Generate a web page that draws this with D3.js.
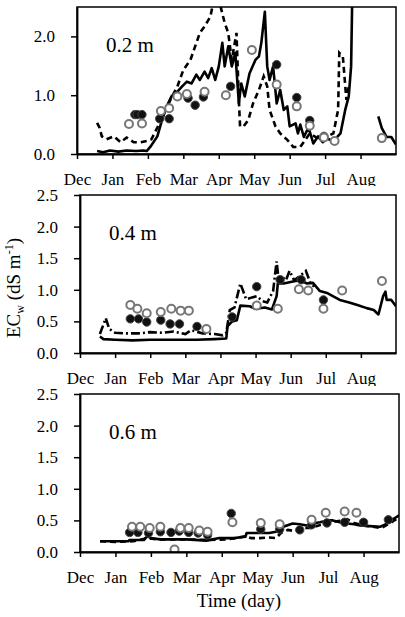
<!DOCTYPE html>
<meta charset="utf-8">
<script src="https://d3js.org/d3.v7.min.js"></script>
<style>
  body { margin: 0; background: #fff; }
</style>
<div id="my_dataviz"></div>
<script>

var serif = "'Liberation Serif', 'Times New Roman', serif";

// month tick labels (one tick every 30 days, day 0 = start of Dec)
var months = ["Dec", "Jan", "Feb", "Mar", "Apr", "May", "Jun", "Jul", "Aug"];
var depths = ["0.2 m", "0.4 m", "0.6 m"];

// ---- 0.2 m : [day, ECw]
var sim02Solid = [[17,0.05],[22,0.03],[28,0.06],[35,0.04],[42,0.06],[50,0.05],[56,0.06],[59,0.05],[62,0.12],[68,0.30],[72,0.58],[76,0.81],[80,0.98],[85,1.06],[89,1.15],[93,1.23],[97,1.20],[101,1.35],[104,1.26],[108,1.40],[111,1.29],[114,1.46],[117,1.26],[120,1.49],[123,1.89],[125,1.49],[128,1.83],[131,1.49],[134,1.72],[137,0.86],[139,1.20],[142,0.98],[146,1.37],[151,1.60],[154,1.66],[156,1.89],[159,2.42],[161,1.49],[163,1.26],[166,1.49],[169,0.86],[172,1.09],[175,0.75],[178,0.81],[180,0.47],[185,0.52],[187,0.35],[189,0.50],[192,0.29],[196,0.45],[200,0.18],[204,0.30],[208,0.20],[212,0.26],[217,0.22],[223,0.35],[227,0.75],[230,0.98],[232,1.49],[233,2.7],[234,null],[255,0.64],[258,0.44],[262,0.29],[266,0.29],[270,0.16]];
var sim02Dash = [[17,0.53],[19,0.45],[21,0.30],[25,0.25],[31,0.30],[37,0.20],[42,0.28],[48,0.20],[54,0.20],[59,0.22],[63,0.25],[68,0.45],[72,0.62],[79,0.92],[85,1.15],[90,1.43],[96,1.60],[100,1.83],[104,2.06],[108,2.17],[113,2.34],[115,2.55],[121,2.55],[125,2.23],[128,2.06],[131,1.60],[135,2.06],[137,0.92],[138,0.47],[141,0.47],[145,0.58],[149,0.86],[154,1.09],[158,1.32],[161,1.15],[163,0.75],[168,0.47],[172,0.35],[178,0.24],[183,0.12],[189,0.12],[197,0.35],[206,0.24],[217,0.35],[221,0.75],[222,1.72],[225,1.66],[228,0.92],[230,1.15]];
var obs02Filled = [[49,0.67],[51,0.67],[55,0.67],[70,0.60],[78,0.60],[94,0.95],[100,0.83],[107,0.97],[130,1.15],[169,1.52],[186,0.96],[197,0.57],[209,0.30]];
var obs02Open = [[44,0.51],[55,0.52],[71,0.73],[78,0.78],[85,0.98],[93,1.02],[108,1.06],[126,1.00],[148,1.77],[169,1.18],[186,0.81],[197,0.48],[209,0.28],[218,0.22],[258,0.27]];

// ---- 0.4 m
var sim04Solid = [[17,0.26],[20,0.22],[30,0.21],[45,0.20],[60,0.21],[80,0.21],[100,0.21],[115,0.22],[125,0.23],[126,0.42],[130,0.50],[134,0.52],[137,0.75],[145,0.74],[150,0.70],[158,0.72],[164,0.69],[168,0.90],[169,1.10],[174,1.10],[182,1.13],[188,1.15],[194,1.10],[199,1.11],[205,0.98],[211,0.95],[216,0.90],[222,0.84],[230,0.80],[237,0.76],[245,0.71],[251,0.68],[255,0.61],[259,0.90],[261,0.97],[262,0.84],[266,0.84],[270,0.74]];
var sim04Dash = [[17,0.30],[20,0.45],[22,0.55],[25,0.38],[30,0.32],[40,0.31],[50,0.31],[60,0.33],[70,0.32],[80,0.34],[90,0.30],[95,0.36],[105,0.31],[115,0.30],[122,0.28],[125,0.32],[128,0.68],[132,0.72],[137,1.10],[142,0.85],[147,0.88],[151,0.90],[156,0.82],[160,0.80],[165,0.98],[168,1.45],[170,1.10],[172,1.22],[176,1.15],[179,1.30],[183,1.15],[188,1.22],[193,1.30],[197,1.10],[200,1.05]];
var obs04Filled = [[43,0.54],[50,0.54],[57,0.49],[69,0.52],[77,0.46],[85,0.46],[100,0.42],[130,0.57],[151,1.05],[171,1.16],[189,1.16],[208,0.84]];
var obs04Open = [[43,0.76],[49,0.70],[57,0.63],[69,0.65],[78,0.70],[86,0.67],[93,0.67],[108,0.38],[151,0.75],[169,0.70],[187,1.01],[195,0.99],[208,0.70],[224,0.99],[258,1.14]];

// ---- 0.6 m
var sim06Solid = [[17,0.17],[30,0.17],[41,0.17],[42,0.19],[54,0.19],[57,0.25],[60,0.22],[68,0.20],[90,0.20],[107,0.18],[118,0.22],[130,0.22],[140,0.24],[141,0.30],[160,0.30],[166,0.32],[172,0.40],[180,0.45],[186,0.44],[192,0.42],[197,0.45],[203,0.47],[210,0.50],[214,0.50],[220,0.47],[226,0.45],[232,0.44],[237,0.42],[245,0.41],[254,0.40],[258,0.43],[263,0.50],[266,0.53],[270,0.58]];
var sim06Dash = [[17,0.17],[30,0.16],[45,0.17],[57,0.22],[65,0.20],[90,0.20],[110,0.19],[125,0.20],[132,0.22],[140,0.25],[145,0.22],[152,0.22],[160,0.23],[166,0.22],[170,0.30],[176,0.35],[182,0.33],[188,0.38],[195,0.38],[202,0.42],[208,0.45],[215,0.48],[222,0.50],[226,0.52],[232,0.46],[240,0.42],[248,0.40],[255,0.38],[262,0.45],[266,0.50],[270,0.55]];
var obs06Filled = [[42,0.31],[49,0.31],[58,0.30],[68,0.32],[77,0.31],[84,0.33],[92,0.31],[100,0.30],[108,0.27],[128,0.61],[153,0.36],[169,0.36],[186,0.35],[196,0.43],[209,0.46],[224,0.47],[240,0.47],[261,0.51]];
var obs06Open = [[44,0.40],[51,0.40],[59,0.38],[68,0.40],[80,0.04],[85,0.38],[92,0.38],[101,0.34],[108,0.32],[129,0.47],[153,0.46],[169,0.44],[196,0.51],[208,0.62],[224,0.64],[234,0.62]];

var yTicks02 = [0, 1, 2];
var yTicksDeep = [0, 0.5, 1, 1.5, 2, 2.5];

// panel layout (pixels)
var panels = [
  {left: 77, right: 396, top: 7,   bottom: 154, clipTop: 0,   clipBottom: 186, ticks: yTicks02,  label: depths[0], solid: sim02Solid, dash: sim02Dash, filled: obs02Filled, open: obs02Open, dashArr: "6,4"},
  {left: 80, right: 396, top: 195, bottom: 353, clipTop: 186, clipBottom: 386, ticks: yTicksDeep, label: depths[1], solid: sim04Solid, dash: sim04Dash, filled: obs04Filled, open: obs04Open, dashArr: "9,3,2,3"},
  {left: 80, right: 399, top: 394, bottom: 552, clipTop: 386, clipBottom: 617, ticks: yTicksDeep, label: depths[2], solid: sim06Solid, dash: sim06Dash, filled: obs06Filled, open: obs06Open, dashArr: "6,4"}
];

var svg = d3.select("#my_dataviz")
  .append("svg")
    .attr("width", 405)
    .attr("height", 617);

var defs = svg.append("defs");

panels.forEach(function(p, i) {

  // crop each panel like the stacked figure
  defs.append("clipPath").attr("id", "crop" + i)
    .append("rect").attr("x", 0).attr("y", p.clipTop)
    .attr("width", 405).attr("height", p.clipBottom - p.clipTop);
  defs.append("clipPath").attr("id", "plot" + i)
    .append("rect").attr("x", p.left).attr("y", p.top)
    .attr("width", p.right - p.left).attr("height", p.bottom - p.top);

  var g = svg.append("g").attr("clip-path", "url(#crop" + i + ")");

  var x = d3.scaleLinear().domain([0, 270]).range([p.left, p.right]);
  var y = d3.scaleLinear().domain([0, 2.5]).range([p.bottom, p.top]);

  var line = d3.line()
    .defined(function(d) { return d[1] !== null; })
    .x(function(d) { return x(d[0]); })
    .y(function(d) { return y(d[1]); });

  var plot = g.append("g").attr("clip-path", "url(#plot" + i + ")");

  plot.append("path").datum(p.dash)
    .attr("d", line).attr("fill", "none").attr("stroke", "#000")
    .attr("stroke-width", 2.6).attr("stroke-dasharray", p.dashArr);

  plot.append("path").datum(p.solid)
    .attr("d", line).attr("fill", "none").attr("stroke", "#000")
    .attr("stroke-width", 2.6).attr("stroke-linejoin", "round");

  plot.selectAll("circle.filled").data(p.filled).enter().append("circle")
    .attr("class", "filled")
    .attr("cx", function(d) { return x(d[0]); })
    .attr("cy", function(d) { return y(d[1]); })
    .attr("r", 4.2).attr("fill", "#111").attr("stroke", "#444").attr("stroke-width", 1);

  plot.selectAll("circle.open").data(p.open).enter().append("circle")
    .attr("class", "open")
    .attr("cx", function(d) { return x(d[0]); })
    .attr("cy", function(d) { return y(d[1]); })
    .attr("r", 4).attr("fill", "#fff").attr("stroke", "#777").attr("stroke-width", 2);

  // frame
  g.append("rect")
    .attr("x", p.left).attr("y", p.top)
    .attr("width", p.right - p.left).attr("height", p.bottom - p.top)
    .attr("fill", "none").attr("stroke", "#000").attr("stroke-width", 1.5);

  // x axis
  var xa = g.append("g")
    .attr("transform", "translate(0," + p.bottom + ")")
    .call(d3.axisBottom(x)
      .tickValues(months.map(function(m, k) { return k * 30; }))
      .tickFormat(function(d, k) { return months[k]; })
      .tickSizeInner(5).tickSizeOuter(0));
  xa.select(".domain").attr("stroke-width", 1.8);
  xa.selectAll(".tick line").attr("stroke-width", 1.5);
  xa.selectAll("text")
    .attr("y", 31).attr("dy", null)
    .attr("fill", "#000")
    .style("font-family", serif).style("font-size", "17px");

  // y axis
  var ya = g.append("g")
    .attr("transform", "translate(" + p.left + ",0)")
    .call(d3.axisLeft(y)
      .tickValues(p.ticks)
      .tickFormat(d3.format(".1f"))
      .tickSizeInner(6).tickSizeOuter(0).tickPadding(16));
  ya.select(".domain").attr("stroke-width", 1.8);
  ya.selectAll(".tick line").attr("stroke-width", 1.5);
  ya.selectAll("text")
    .attr("fill", "#000")
    .style("font-family", serif).style("font-size", "17px");

  // depth label
  g.append("text")
    .attr("x", p.left + 29).attr("y", p.top + 45)
    .style("font-family", serif).style("font-size", "21px")
    .text(p.label);
});

// y axis title
var yt = svg.append("text")
  .attr("transform", "translate(20,288) rotate(-90)")
  .attr("text-anchor", "middle")
  .style("font-family", serif).style("font-size", "19px");
yt.append("tspan").text("EC");
yt.append("tspan").style("font-size", "12px").attr("dy", 4).text("w");
yt.append("tspan").attr("dy", -4).text(" (dS m");
yt.append("tspan").style("font-size", "12px").attr("dy", -7).text("-1");
yt.append("tspan").attr("dy", 7).text(")");

// x axis title
svg.append("text")
  .attr("x", 239).attr("y", 607)
  .attr("text-anchor", "middle")
  .style("font-family", serif).style("font-size", "19px")
  .text("Time (day)");

</script>
